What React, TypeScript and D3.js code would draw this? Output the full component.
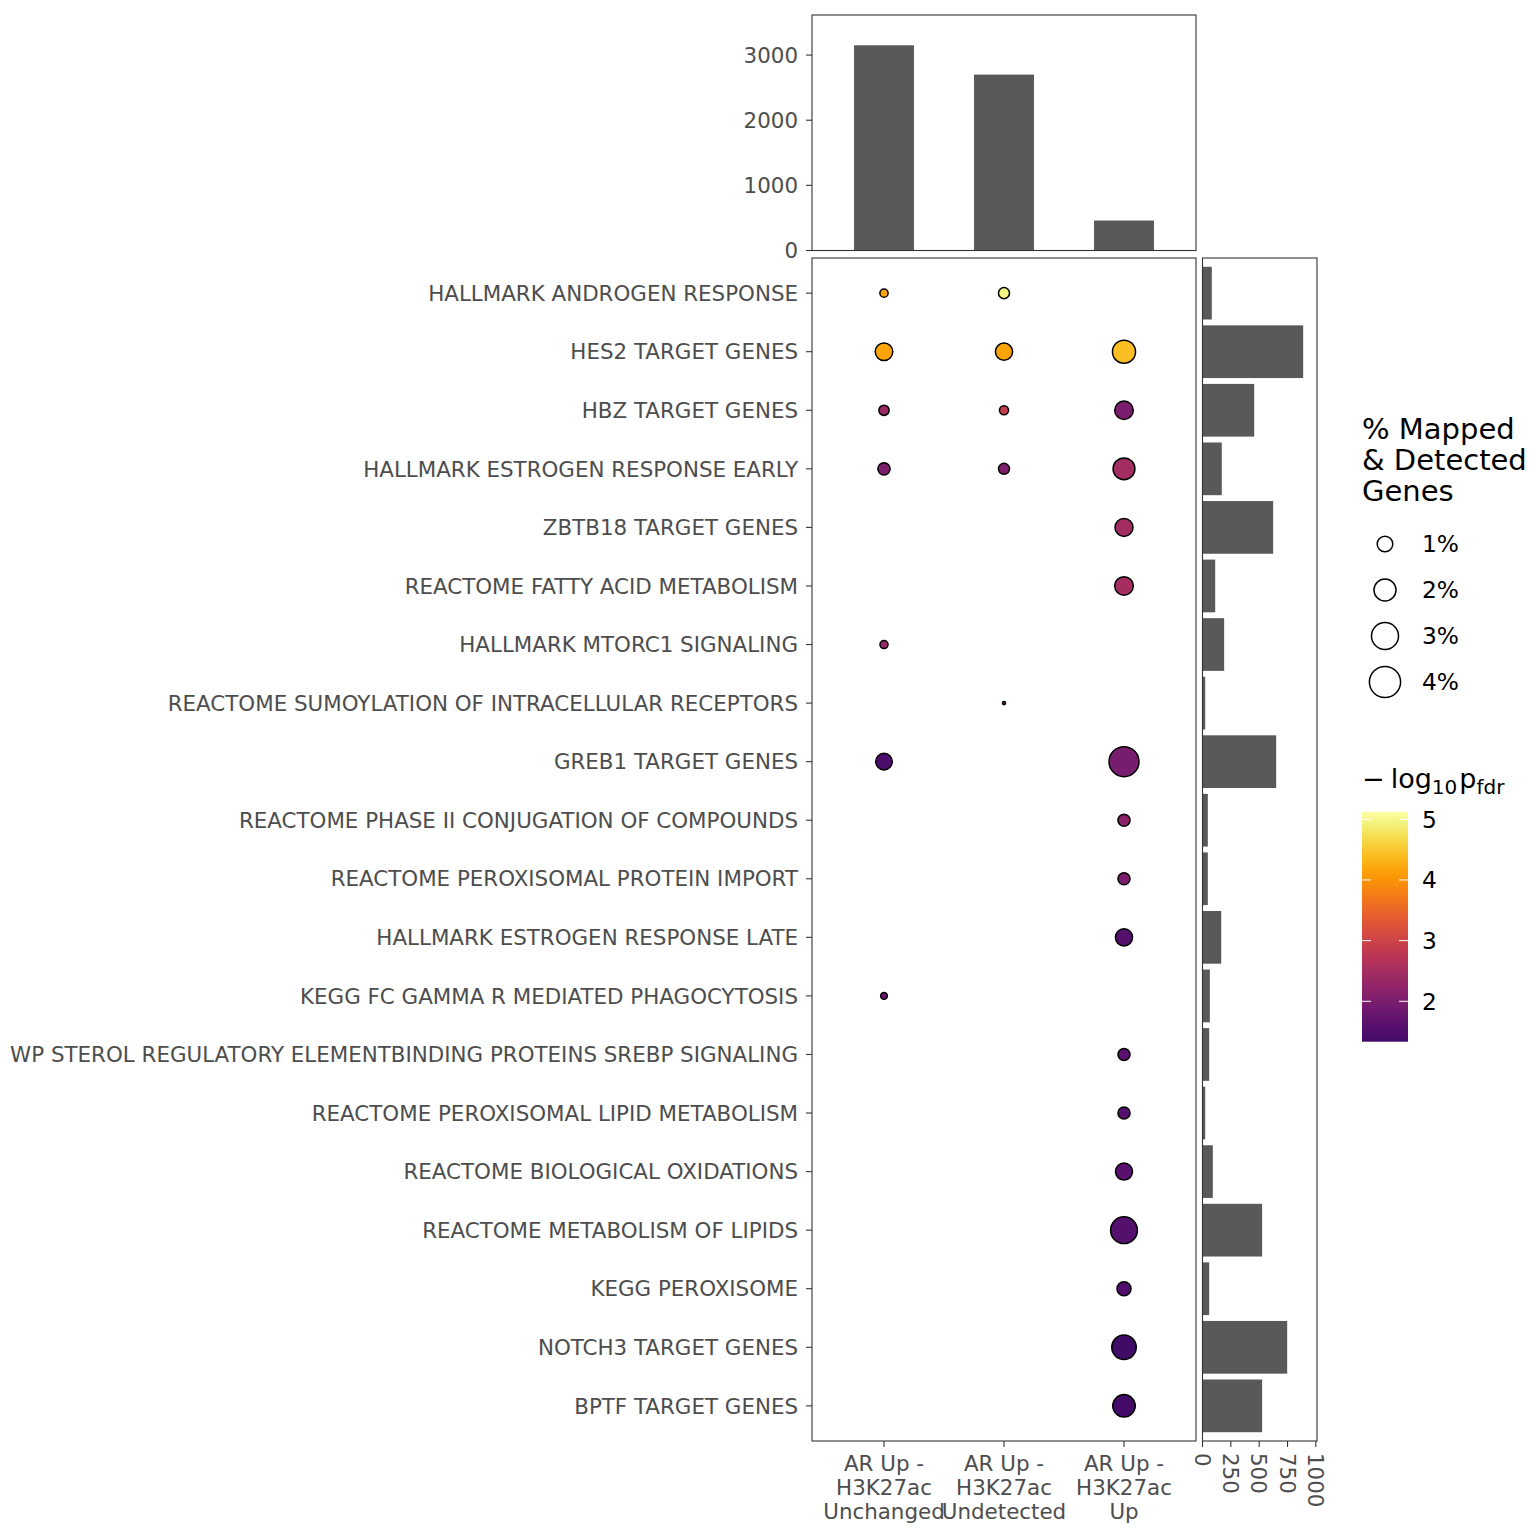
import React, { useEffect } from "react";
import * as d3 from "d3";

const terms = [
  "HALLMARK ANDROGEN RESPONSE",
  "HES2 TARGET GENES",
  "HBZ TARGET GENES",
  "HALLMARK ESTROGEN RESPONSE EARLY",
  "ZBTB18 TARGET GENES",
  "REACTOME FATTY ACID METABOLISM",
  "HALLMARK MTORC1 SIGNALING",
  "REACTOME SUMOYLATION OF INTRACELLULAR RECEPTORS",
  "GREB1 TARGET GENES",
  "REACTOME PHASE II CONJUGATION OF COMPOUNDS",
  "REACTOME PEROXISOMAL PROTEIN IMPORT",
  "HALLMARK ESTROGEN RESPONSE LATE",
  "KEGG FC GAMMA R MEDIATED PHAGOCYTOSIS",
  "WP STEROL REGULATORY ELEMENTBINDING PROTEINS SREBP SIGNALING",
  "REACTOME PEROXISOMAL LIPID METABOLISM",
  "REACTOME BIOLOGICAL OXIDATIONS",
  "REACTOME METABOLISM OF LIPIDS",
  "KEGG PEROXISOME",
  "NOTCH3 TARGET GENES",
  "BPTF TARGET GENES",
];

const groups = ["Unchanged", "Undetected", "Up"];
const groupLabelLines = [
  ["AR Up -", "H3K27ac", "Unchanged"],
  ["AR Up -", "H3K27ac", "Undetected"],
  ["AR Up -", "H3K27ac", "Up"],
];
const groupTotals = [3150, 2700, 460];
const topTicks = [0, 1000, 2000, 3000];

const geneSetSizes = [82, 888, 456, 170, 623, 112, 191, 24, 650, 47, 47, 165, 65, 59, 24, 91, 526, 59, 747, 526];
const rightTicks = [0, 250, 500, 750, 1000];

// dots: term index, group index, % mapped & detected, -log10 p_fdr
const dotTerm = [0, 0, 1, 1, 1, 2, 2, 2, 3, 3, 3, 4, 5, 6, 7, 8, 8, 9, 10, 11, 12, 13, 14, 15, 16, 17, 18, 19];
const dotGroup = [0, 1, 0, 1, 2, 0, 1, 2, 0, 1, 2, 2, 2, 0, 1, 0, 2, 2, 2, 2, 0, 2, 2, 2, 2, 2, 2, 2];
const dotPct = [0.28, 0.5, 1.27, 1.21, 2.19, 0.43, 0.34, 1.42, 0.62, 0.5, 1.97, 1.33, 1.42, 0.27, 0.04, 1.13, 3.7, 0.6, 0.6, 1.21, 0.19, 0.6, 0.6, 1.19, 2.96, 0.81, 2.46, 2.08];
const dotLogP = [4.18, 4.94, 4.18, 4.18, 4.42, 2.37, 2.89, 1.99, 2.03, 2.03, 2.46, 2.46, 2.5, 2.32, 2.2, 1.46, 1.96, 2.2, 1.98, 1.56, 1.8, 1.6, 1.56, 1.6, 1.56, 1.5, 1.32, 1.35];

const sizeLegendValues = [1, 2, 3, 4];
const sizeLegendLabels = ["1%", "2%", "3%", "4%"];
const colorTicks = [2, 3, 4, 5];
const colorDomain = [1.334, 5.125];

const FONT = "DejaVu Sans, Verdana, sans-serif";
const AXIS_COL = "#4d4d4d";
const BORDER = "#333333";
const BAR = "#595959";

export default function App() {
  useEffect(() => {
    document.body.style.margin = "0";
  }, []);

  const main = { x0: 812, x1: 1196, y0: 258, y1: 1441 };
  const top = { y0: 15, y1: 250.5 };
  const right = { x0: 1202.5, x1: 1317 };

  const xPoint = d3.scalePoint<string>().domain(groups).range([main.x0, main.x1]).padding(0.6);
  const xBand = d3.scaleBand<string>().domain(groups).range([main.x0, main.x1]).paddingInner(0.5).paddingOuter(0.35);
  const yPoint = d3.scalePoint<string>().domain(terms).range([main.y0, main.y1]).padding(0.6);
  const yBand = d3.scaleBand<string>().domain(terms).range([main.y0, main.y1]).paddingInner(0.1).paddingOuter(0.15);
  const yTop = d3.scaleLinear().domain([0, 3615]).range([top.y1, top.y0]);
  const xRight = d3.scaleLinear().domain([0, 1010]).range([right.x0, right.x1]);
  const rScale = d3.scaleSqrt().domain([0, 4]).range([0, 15.6]);
  const tScale = d3.scaleLinear().domain(colorDomain).range([0.2, 1]);
  const color = (v: number) => d3.interpolateInferno(tScale(v));

  const cb = { x0: 1362, x1: 1408, y0: 811.7, y1: 1041.7 };
  const yColor = d3.scaleLinear().domain(colorDomain).range([cb.y1, cb.y0]);
  const gradStops = d3.range(0, 21).map((i) => {
    const v = colorDomain[0] + (i / 20) * (colorDomain[1] - colorDomain[0]);
    return { off: (i / 20) * 100, c: color(v) };
  });

  const axisFont = 21.4;
  const legendFont = 23.3;

  return (
    <svg width={1536} height={1536} style={{ display: "block", background: "#fff" }} fontFamily={FONT}>
      <defs>
        <linearGradient id="cbar" x1="0" y1="1" x2="0" y2="0">
          {gradStops.map((s, i) => (
            <stop key={i} offset={`${s.off}%`} stopColor={s.c} />
          ))}
        </linearGradient>
      </defs>
      <rect x={0} y={0} width={1536} height={1536} fill="#fff" />

      {/* top bar panel */}
      <g>
        <rect x={main.x0} y={top.y0} width={main.x1 - main.x0} height={top.y1 - top.y0} fill="#fff" />
        {groups.map((g, i) => (
          <rect key={g} x={xBand(g)} y={yTop(groupTotals[i])} width={xBand.bandwidth()} height={yTop(0) - yTop(groupTotals[i])} fill={BAR} />
        ))}
        <rect x={main.x0} y={top.y0} width={main.x1 - main.x0} height={top.y1 - top.y0} fill="none" stroke={BORDER} strokeWidth={1.1} />
        {topTicks.map((t) => (
          <g key={t}>
            <line x1={main.x0 - 6} x2={main.x0} y1={yTop(t)} y2={yTop(t)} stroke={BORDER} strokeWidth={1.1} />
            <text x={main.x0 - 14} y={yTop(t)} dy="0.36em" textAnchor="end" fontSize={axisFont} fill={AXIS_COL}>
              {t}
            </text>
          </g>
        ))}
      </g>

      {/* main dot panel */}
      <g>
        <rect x={main.x0} y={main.y0} width={main.x1 - main.x0} height={main.y1 - main.y0} fill="none" stroke={BORDER} strokeWidth={1.1} />
        {terms.map((t) => (
          <g key={t}>
            <line x1={main.x0 - 6} x2={main.x0} y1={yPoint(t)} y2={yPoint(t)} stroke={BORDER} strokeWidth={1.1} />
            <text x={main.x0 - 14} y={yPoint(t)} dy="0.36em" textAnchor="end" fontSize={axisFont} fill={AXIS_COL}>
              {t}
            </text>
          </g>
        ))}
        {groups.map((g, i) => (
          <g key={g}>
            <line x1={xPoint(g)} x2={xPoint(g)} y1={main.y1} y2={main.y1 + 6} stroke={BORDER} strokeWidth={1.1} />
            {groupLabelLines[i].map((ln, j) => (
              <text key={j} x={xPoint(g)} y={main.y1 + 30 + j * 24} textAnchor="middle" fontSize={axisFont} fill={AXIS_COL}>
                {ln}
              </text>
            ))}
          </g>
        ))}
        {dotTerm.map((ti, k) => (
          <circle
            key={k}
            cx={xPoint(groups[dotGroup[k]])}
            cy={yPoint(terms[ti])}
            r={rScale(dotPct[k])}
            fill={color(dotLogP[k])}
            stroke="#000"
            strokeWidth={1.5}
          />
        ))}
      </g>

      {/* right bar panel */}
      <g>
        {terms.map((t, i) => (
          <rect key={t} x={xRight(0)} y={yBand(t)} width={xRight(geneSetSizes[i]) - xRight(0)} height={yBand.bandwidth()} fill={BAR} />
        ))}
        <rect x={right.x0} y={main.y0} width={right.x1 - right.x0} height={main.y1 - main.y0} fill="none" stroke={BORDER} strokeWidth={1.1} />
        {rightTicks.map((t) => (
          <g key={t}>
            <line x1={xRight(t)} x2={xRight(t)} y1={main.y1} y2={main.y1 + 6} stroke={BORDER} strokeWidth={1.1} />
            <text
              transform={`translate(${xRight(t)},${main.y1 + 12}) rotate(90)`}
              dy="0.36em"
              textAnchor="start"
              fontSize={axisFont}
              fill={AXIS_COL}
            >
              {t}
            </text>
          </g>
        ))}
      </g>

      {/* size legend */}
      <g>
        {["% Mapped", "& Detected", "Genes"].map((ln, i) => (
          <text key={i} x={1362} y={439 + i * 31} fontSize={29} fill="#000">
            {ln}
          </text>
        ))}
        {sizeLegendValues.map((v, i) => (
          <g key={v}>
            <circle cx={1385} cy={544 + i * 46} r={rScale(v)} fill="#fff" stroke="#000" strokeWidth={1.5} />
            <text x={1422} y={544 + i * 46} dy="0.36em" fontSize={legendFont} fill="#000">
              {sizeLegendLabels[i]}
            </text>
          </g>
        ))}
      </g>

      {/* color legend */}
      <g>
        <text x={1362} y={788} fontSize={27} fill="#000">
          <tspan>−</tspan>
          <tspan dx={6}>log</tspan>
          <tspan fontSize={20} dy={6}>10</tspan>
          <tspan dy={-6} dx={2}>p</tspan>
          <tspan fontSize={20} dy={6}>fdr</tspan>
        </text>
        <rect x={cb.x0} y={cb.y0} width={cb.x1 - cb.x0} height={cb.y1 - cb.y0} fill="url(#cbar)" />
        {colorTicks.map((t) => (
          <g key={t}>
            <line x1={cb.x0} x2={cb.x0 + 9} y1={yColor(t)} y2={yColor(t)} stroke="#fff" strokeWidth={1} />
            <line x1={cb.x1 - 9} x2={cb.x1} y1={yColor(t)} y2={yColor(t)} stroke="#fff" strokeWidth={1} />
            <text x={1422} y={yColor(t)} dy="0.36em" fontSize={legendFont} fill="#000">
              {t}
            </text>
          </g>
        ))}
      </g>
    </svg>
  );
}
